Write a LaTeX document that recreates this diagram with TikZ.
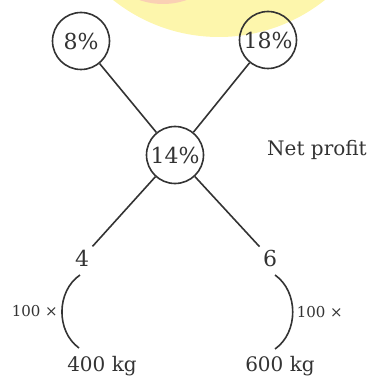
\documentclass[tikz,border=0pt]{standalone}
\usepackage{fontspec}
\setmainfont{DejaVu Serif}
\usepackage{tikz}
\usetikzlibrary{arrows.meta,calc,positioning}

\definecolor{wmyellow}{RGB}{253,246,172}
\definecolor{wmpink}{RGB}{250,208,180}

\begin{document}
\begin{tikzpicture}[
    x=1pt, y=-1pt,
    every node/.style={font=\fontsize{20}{24}\selectfont, text=black!80},
    pct/.style={draw=black!80, circle, line width=1.6pt, minimum size=57pt, inner sep=0pt,
        font=\fontsize{22}{26}\selectfont},
    digit/.style={font=\fontsize{22}{26}\selectfont},
    link/.style={draw=black!80, line width=1.6pt},
    small/.style={font=\fontsize{15}{18}\selectfont}
]
    \useasboundingbox (0,0) rectangle (370,377);

    % watermark at the top
    \begin{scope}
        \clip (0,0) rectangle (370,377);
        \fill[wmyellow] (219,-133) circle[radius=170pt];
        \fill[wmpink] (163,-67) circle[radius=71pt];
    \end{scope}

    \node[pct] (c8) at (81,41) {8\%};
    \node[pct] (c18) at (268,40) {18\%};
    \node[pct] (c14) at (175,155) {14\%};
    \node (np) at (317,150) {Net profit};

    \node[digit] (n4) at (82,258) {4};
    \node[digit] (n6) at (270,258) {6};
    \node (n400) at (102,366) {400 kg};
    \node (n600) at (280,366) {600 kg};

    \coordinate (l1) at (80,275);
    \coordinate (l2) at (79,348);
    \coordinate (r1) at (275,275);
    \coordinate (r2) at (275,349);

    \draw[link] (c8) -- (c14);
    \draw[link] (c18) -- (c14);
    \draw[link] (c14) -- (n4);
    \draw[link] (c14) -- (n6);

    \draw[link] (l1) to[bend right=55] node[left, small] {100 ×} (l2);
    \draw[link] (r1) to[bend left=55] node[right, small] {100 ×} (r2);
\end{tikzpicture}
\end{document}
